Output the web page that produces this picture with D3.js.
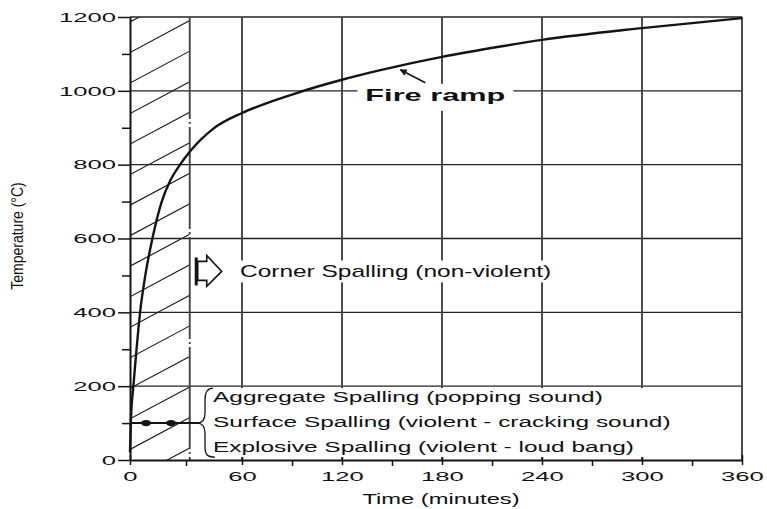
<!DOCTYPE html>
<html><head><meta charset="utf-8">
<script src="https://cdn.jsdelivr.net/npm/d3@7"></script>
<style>
body{margin:0;background:#fff}
svg{display:block}
text{font-family:"Liberation Sans",Arial,Helvetica,sans-serif;fill:#111}
</style>
</head><body>
<svg id="c" width="767" height="509"></svg>
<script>
// ---- data ----
const xTicks = [0, 60, 120, 180, 240, 300, 360];
const xMinorTicks = [30, 90, 150, 210, 270, 330];
const yTicks = [0, 200, 400, 600, 800, 1000, 1200];
const yMinorTicks = [100, 300, 500, 700, 900, 1100];
const fireTime = [0, 0.5, 1.8, 3.5, 5.4, 8.2, 12, 17, 21.4, 26.8, 32, 44.5, 60, 75, 90, 105, 120, 143, 180, 215, 240, 300, 360];
const fireTemp = [20, 110, 200, 300, 400, 500, 600, 700, 755, 800, 835, 897, 940, 967, 990, 1011, 1030, 1056, 1092, 1120, 1138, 1170, 1197];
const hatchEnd = [32];            // minutes, early-spalling window
const fireArrowFrom = [170, 1022];
const fireArrowTo = [155, 1057];
const spallingTemp = [100];
const spallingDots = [8.6, 22];
const fireLabel = "Fire ramp";
const cornerLabel = "Corner Spalling (non-violent)";
const spallingLabels = ["Aggregate Spalling (popping sound)", "Surface Spalling (violent - cracking sound)", "Explosive Spalling (violent - loud bang)"];
const xTitle = "Time (minutes)";
const yTitle = "Temperature (\u00B0C)";

// ---- scales ----
const svg = d3.select("#c");
const x = d3.scaleLinear().domain([0, 60, 360]).range([130, 242, 742]);
const y = d3.scaleLinear().domain([0, 1200]).range([460, 17]);
const ink = "#141414";

// ---- hatch region ----
svg.append("defs").append("clipPath").attr("id", "hclip")
  .append("rect").attr("x", x(0)).attr("y", y(1200))
  .attr("width", x(hatchEnd[0]) - x(0)).attr("height", y(0) - y(1200));
const hatchStarts = d3.range(-54, 1200, 82.7);
svg.append("g").attr("clip-path", "url(#hclip)")
  .selectAll("line").data(hatchStarts).join("line")
  .attr("x1", x(0)).attr("y1", d => y(d))
  .attr("x2", x(hatchEnd[0])).attr("y2", d => y(d + 86.5))
  .attr("stroke", ink).attr("stroke-width", 1.1);

// ---- grid ----
svg.append("g").selectAll("line").data(yTicks.filter(d => d > 0)).join("line")
  .attr("x1", x(0)).attr("x2", x(360)).attr("y1", d => y(d)).attr("y2", d => y(d))
  .attr("stroke", "#222").attr("stroke-width", 1.3);
svg.append("g").selectAll("line").data(xTicks.filter(d => d > 0)).join("line")
  .attr("x1", d => x(d)).attr("x2", d => x(d)).attr("y1", y(0)).attr("y2", y(1200))
  .attr("stroke", "#444").attr("stroke-width", 1.9);
// hatch boundary (dash-dot)
svg.append("line").attr("x1", x(hatchEnd[0])).attr("x2", x(hatchEnd[0]))
  .attr("y1", y(1200)).attr("y2", y(0))
  .attr("stroke", "#444").attr("stroke-width", 1.9).attr("stroke-dasharray", "102,3,2,3");

// ---- axes ----
const axY = svg.append("g").attr("transform", `translate(${x(0)},0)`)
  .call(d3.axisLeft(y).tickValues(yTicks).tickFormat(d3.format("d")).tickSize(12).tickSizeOuter(0).tickPadding(2));
svg.append("g").attr("transform", `translate(${x(0)},0)`)
  .call(d3.axisLeft(y).tickValues(yMinorTicks).tickSize(8).tickSizeOuter(0).tickFormat(""))
  .call(g => g.select(".domain").remove());
const axX = svg.append("g").attr("transform", `translate(0,${y(0)})`)
  .call(d3.axisBottom(x).tickValues(xTicks).tickFormat(d3.format("d")).tickSize(5).tickSizeOuter(0).tickPadding(6));
svg.append("g").attr("transform", `translate(0,${y(0)})`)
  .call(d3.axisBottom(x).tickValues(xMinorTicks).tickSize(6).tickSizeOuter(0).tickFormat(""))
  .call(g => g.select(".domain").remove());
svg.selectAll(".domain").attr("stroke", ink).attr("stroke-width", 2);
svg.selectAll(".tick line").attr("stroke", ink).attr("stroke-width", 1.5);
axX.selectAll(".tick line").attr("y1", -5);
axY.selectAll("text").attr("x", null).attr("font-size", 13.5).attr("font-family", null)
  .attr("transform", "translate(-14,0) scale(1.9,1)");
axX.selectAll("text").attr("y", null).attr("font-size", 13.5).attr("font-family", null)
  .attr("transform", "translate(0,11) scale(1.9,1)");
svg.selectAll(".tick text").attr("fill", ink);

// ---- fire curve ----
const fire = fireTime.map((t, i) => ({t, v: fireTemp[i]}));
svg.append("path").datum(fire)
  .attr("d", d3.line().x(d => x(d.t)).y(d => y(d.v)).curve(d3.curveMonotoneX))
  .attr("fill", "none").attr("stroke", ink).attr("stroke-width", 2.4);

// ---- annotations ----
svg.select("defs").append("marker").attr("id", "ah").attr("viewBox", "0 0 10 10")
  .attr("refX", 9).attr("refY", 5).attr("markerWidth", 10).attr("markerHeight", 7)
  .attr("markerUnits", "userSpaceOnUse").attr("orient", "auto")
  .append("path").attr("d", "M0,0 L10,5 L0,10 Z").attr("fill", ink);
svg.append("line")
  .attr("x1", x(fireArrowFrom[0])).attr("y1", y(fireArrowFrom[1]))
  .attr("x2", x(fireArrowTo[0])).attr("y2", y(fireArrowTo[1]))
  .attr("stroke", ink).attr("stroke-width", 1.5).attr("marker-end", "url(#ah)");

// Fire ramp label with white backing
const frX = x(176), frY = y(1000) + 10;
svg.append("rect").attr("x", frX - 78).attr("y", frY - 17).attr("width", 156).attr("height", 27).attr("fill", "#fff");
svg.append("text").attr("text-anchor", "middle").attr("font-weight", "bold").attr("font-size", 16)
  .attr("transform", `translate(${frX},${frY}) scale(1.92,1)`).text(fireLabel);

// Corner spalling
const cX = x(60) - 2, cY = y(500) + 2;
svg.append("rect").attr("x", cX - 5).attr("y", cY - 17).attr("width", 322).attr("height", 22).attr("fill", "#fff");
svg.append("text").attr("font-size", 16)
  .attr("transform", `translate(${cX},${cY}) scale(1.53,1)`).text(cornerLabel);
const bx = x(hatchEnd[0]) + 32, by = y(500) - 4;
const blk = svg.append("g").attr("transform", `translate(${bx},${by})`);
blk.append("rect").attr("x", -27).attr("y", -14).attr("width", 3).attr("height", 28).attr("fill", ink);
blk.append("path").attr("d", "M-24,-10 L-15,-10 L-15,-16 L0,0 L-15,15 L-15,9 L-24,9 Z")
  .attr("fill", "#fff").attr("stroke", ink).attr("stroke-width", 1.6).attr("stroke-linejoin", "miter");

// Bottom spalling annotation
const sY = y(spallingTemp[0]);
svg.append("rect").attr("x", 206).attr("y", sY - 35).attr("width", 476).attr("height", 69).attr("fill", "#fff");
svg.append("line").attr("x1", x(0)).attr("x2", 198).attr("y1", sY).attr("y2", sY)
  .attr("stroke", ink).attr("stroke-width", 2);
svg.append("g").selectAll("ellipse").data(spallingDots).join("ellipse")
  .attr("cx", d => x(d)).attr("cy", sY).attr("rx", 5).attr("ry", 3.2).attr("fill", ink);
svg.append("path")
  .attr("d", `M213,${sY-35} C207,${sY-35} 205,${sY-31} 205,${sY-23} L205,${sY-10} C205,${sY-3} 202,${sY} 197,${sY} C202,${sY} 205,${sY+3} 205,${sY+10} L205,${sY+24} C205,${sY+31} 207,${sY+34} 215,${sY+34}`)
  .attr("fill", "none").attr("stroke", ink).attr("stroke-width", 1.3);
svg.append("g").selectAll("text").data(spallingLabels).join("text")
  .attr("font-size", 15)
  .attr("transform", (d, i) => `translate(213,${sY + 4 + (i - 1) * 25}) scale(1.63,1)`)
  .text(d => d);

// ---- axis titles ----
svg.append("text").attr("text-anchor", "middle").attr("font-size", 15)
  .attr("transform", `translate(441,504) scale(1.58,1)`).text(xTitle);
svg.append("text").attr("text-anchor", "middle").attr("font-size", 14)
  .attr("transform", "translate(23,236) scale(1.15,1) rotate(-90)").text(yTitle);
</script>
</body></html>
